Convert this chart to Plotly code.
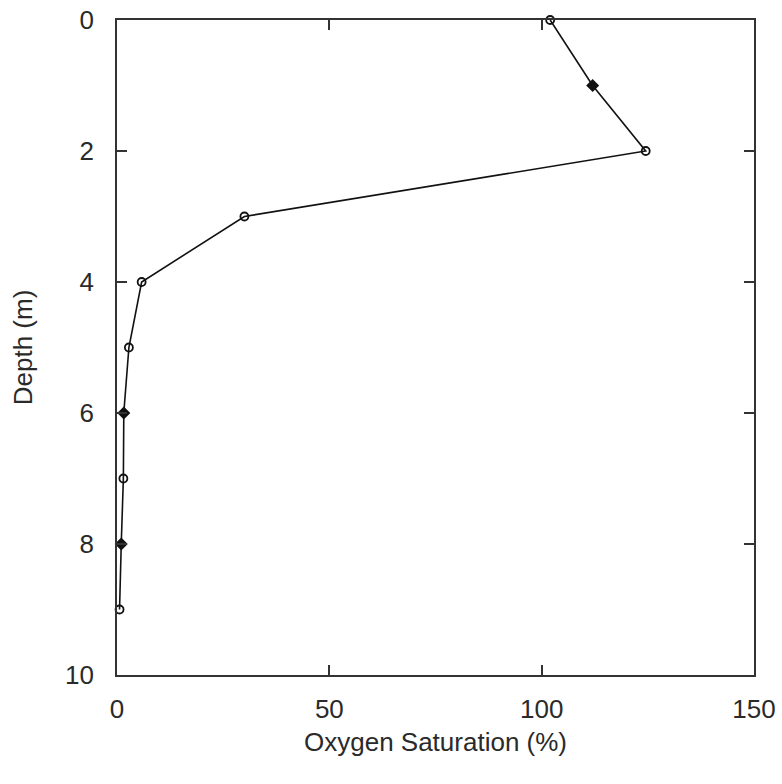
import plotly.graph_objects as go

# Dissolved oxygen profile: saturation (%) against depth (m)
depth_m = [0, 1, 2, 3, 4, 5, 6, 7, 8, 9]
oxygen_sat = [102, 112, 124.5, 30, 5.8, 2.8, 1.6, 1.5, 1.0, 0.6]
marker_symbols = ["circle-open", "diamond", "circle-open", "circle-open", "circle-open",
                  "circle-open", "diamond", "circle-open", "diamond", "circle-open"]

x_ticks = [0, 50, 100, 150]
y_ticks = [0, 2, 4, 6, 8, 10]

font = dict(family="Liberation Sans, Arial, sans-serif", size=26, color="#2a2a2a")

fig = go.Figure(
    go.Scatter(
        x=oxygen_sat,
        y=depth_m,
        mode="lines+markers",
        line=dict(color="#111", width=1.6),
        marker=dict(symbol=marker_symbols, size=8, color="#111",
                    line=dict(color="#111", width=1.8)),
        showlegend=False,
        cliponaxis=False,
    )
)

axis_common = dict(
    showline=True, linecolor="#333", linewidth=1.6, mirror="ticks",
    ticks="inside", ticklen=10, tickwidth=1.6, tickcolor="#333",
    showgrid=False, zeroline=False, tickfont=font, automargin=False,
)

fig.update_xaxes(
    range=[0, 150], tickvals=x_ticks,
    title=dict(text="Oxygen Saturation (%)", font=font, standoff=10),
    ticklabelstandoff=10, **axis_common,
)
fig.update_yaxes(
    range=[10, 0], tickvals=y_ticks,
    title=dict(text="Depth (m)", font=font, standoff=25),
    ticklabelstandoff=16, **axis_common,
)

fig.update_layout(
    width=782, height=784,
    margin=dict(l=117, r=28, t=20, b=109),
    plot_bgcolor="white", paper_bgcolor="white",
    font=font,
)

fig.write_html("out.html")
